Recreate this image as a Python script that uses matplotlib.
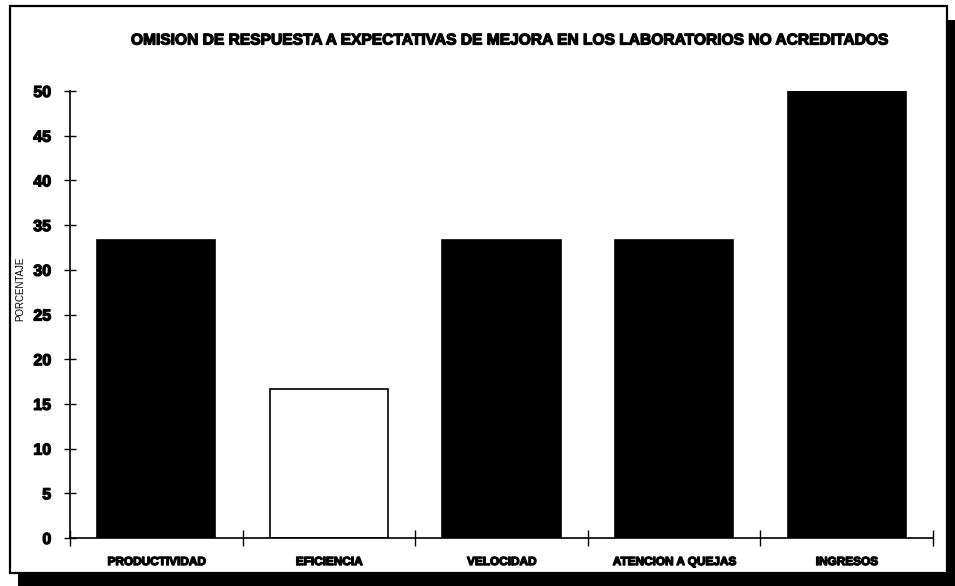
import matplotlib.pyplot as plt
import matplotlib.patheffects as pe
from matplotlib.patches import Rectangle

categorias = ["PRODUCTIVIDAD", "EFICIENCIA", "VELOCIDAD", "ATENCION A QUEJAS", "INGRESOS"]
porcentajes = [33.3, 16.7, 33.3, 33.3, 50.0]
relleno = ["black", "white", "black", "black", "black"]
yticks = [0, 5, 10, 15, 20, 25, 30, 35, 40, 45, 50]
titulo = "OMISION DE RESPUESTA A EXPECTATIVAS DE MEJORA EN LOS LABORATORIOS NO ACREDITADOS"

fuente = ["Liberation Sans Narrow", "Liberation Sans", "DejaVu Sans"]
plt.rcParams["font.family"] = fuente

W, H = 955, 586
fig = plt.figure(figsize=(W / 100, H / 100), dpi=100)

def px(x0, y0, x1, y1):
    # pixel box (top-left origin) -> figure fraction rectangle args
    return (x0 / W, 1 - y1 / H), (x1 - x0) / W, (y1 - y0) / H

# sombra y marco
xy, w, h = px(18, 20, 955, 586)
fig.patches.append(Rectangle(xy, w, h, transform=fig.transFigure, facecolor="black",
                             edgecolor="none", zorder=-3))
xy, w, h = px(10, 6, 947, 573)
fig.patches.append(Rectangle(xy, w, h, transform=fig.transFigure, facecolor="white",
                             edgecolor="black", linewidth=1.6, zorder=-2))

ax = fig.add_axes([70 / W, 1 - 538 / H, (933 - 70) / W, (538 - 91) / H])
ax.set_facecolor("none")

x = range(len(categorias))
ax.bar(x, porcentajes, width=0.685, color=relleno, edgecolor="black", linewidth=1.2)

ax.set_xlim(-0.5, len(categorias) - 0.5)
ax.set_ylim(0, 50)
ax.set_yticks(yticks)
ax.set_xticks(list(x))
ax.set_xticklabels(categorias)
ax.set_xticks([i - 0.5 for i in range(len(categorias) + 1)], minor=True)

for s in ["top", "right"]:
    ax.spines[s].set_visible(False)
ax.spines["left"].set_linewidth(1.2)
ax.spines["bottom"].set_linewidth(1.2)

ax.tick_params(axis="y", direction="inout", length=9, width=1.0, pad=9,
               labelsize=11.5)
ax.tick_params(axis="x", which="major", length=0, pad=13, labelsize=8.5)
ax.tick_params(axis="x", which="minor", direction="inout", length=11, width=1.0)

# trazo extra para que el texto se vea más grueso
grueso = [pe.withStroke(linewidth=0.9, foreground="black")]
for lab in ax.get_yticklabels() + ax.get_xticklabels():
    lab.set_fontweight("bold")
    lab.set_path_effects(grueso)

fig.text(507 / W, 1 - 40 / H, titulo, ha="center", va="center",
         fontsize=11.2, fontweight="bold", path_effects=grueso)
fig.text(20 / W, 1 - 289 / H, "PORCENTAJE", ha="center", va="center",
         rotation=90, fontsize=7)

fig.savefig("out.png", dpi=100)
